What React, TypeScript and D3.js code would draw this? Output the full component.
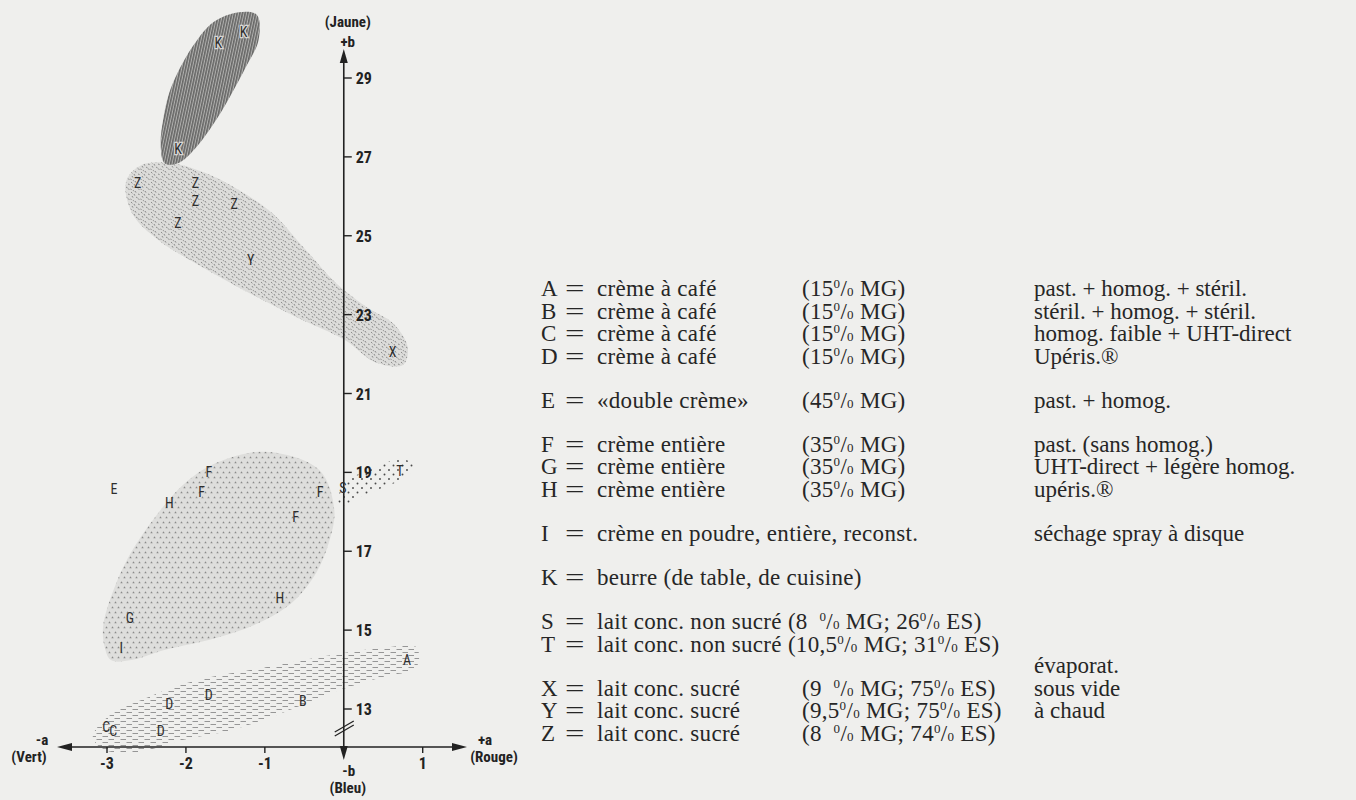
import React from "react";
import * as d3 from "d3";

// ---------- axis ticks ----------
const xTicks = [-3, -2, -1, 1];
const yTicks = [13, 15, 17, 19, 21, 23, 25, 27, 29];

// ---------- point labels (a*, b*) ----------
const ptCode = ["K", "K", "K", "Z", "Z", "Z", "Z", "Z", "Y", "X", "E", "H", "F", "F", "F", "F", "H", "G", "I", "S", "T", "A", "B", "D", "D", "D", "C", "C"];
const ptA = [-1.27, -1.59, -2.1, -2.61, -1.88, -1.88, -1.39, -2.1, -1.18, 0.62, -2.91, -2.21, -1.71, -1.8, -0.3, -0.61, -0.81, -2.71, -2.82, -0.01, 0.71, 0.8, -0.52, -1.71, -2.21, -2.32, -3.01, -2.92];
const ptB = [30.17, 29.9, 27.2, 26.33, 26.33, 25.88, 25.8, 25.32, 24.38, 22.05, 18.58, 18.22, 19.01, 18.5, 18.5, 17.87, 15.81, 15.31, 14.55, 18.6, 19.03, 14.24, 13.2, 13.35, 13.13, 12.44, 12.54, 12.44];

// ---------- region outlines (a*, b*) ----------
const regionK: [number, number][] = [
  [-1.33, 30.67], [-1.1, 30.6], [-1.08, 29.96], [-1.24, 29.28], [-1.43, 28.57], [-1.62, 27.93], [-1.88, 27.22],
  [-2.1, 26.84], [-2.27, 26.84], [-2.32, 27.3], [-2.29, 27.93], [-2.22, 28.57], [-2.12, 29.07], [-1.9, 29.84], [-1.65, 30.42],
];
const regionXYZ: [number, number][] = [
  [-2.76, 26.36], [-2.57, 26.79], [-2.18, 26.84], [-1.75, 26.59], [-1.33, 26.16], [-0.91, 25.58], [-0.48, 24.64],
  [-0.1, 23.8], [0.29, 23.19], [0.62, 22.79], [0.81, 22.18], [0.75, 21.72], [0.39, 21.8], [0.01, 22.36],
  [-0.57, 22.91], [-1.2, 23.55], [-1.84, 24.26], [-2.35, 24.89], [-2.67, 25.53],
];
const regionEFGHI: [number, number][] = [
  [-0.99, 19.52], [-0.31, 19.06], [-0.12, 18.05], [-0.18, 17.28], [-0.35, 16.45], [-0.66, 15.69], [-1.08, 15.18],
  [-1.62, 14.8], [-2.26, 14.5], [-2.69, 14.24], [-2.95, 14.24], [-3.03, 14.57], [-3.05, 15.08], [-2.95, 15.84],
  [-2.73, 16.85], [-2.39, 17.87], [-2.01, 18.73], [-1.59, 19.26],
];
const regionST: [number, number][] = [
  [-0.08, 18.3], [0.07, 18.81], [0.39, 19.11], [0.71, 19.34], [0.89, 19.19], [0.81, 18.91], [0.52, 18.63], [0.2, 18.38], [0.0, 18.17],
];
const regionABCD: [number, number][] = [
  [-3.18, 12.29], [-2.99, 12.8], [-2.48, 13.3], [-1.84, 13.74], [-0.99, 14.06], [-0.15, 14.37], [0.49, 14.55], [0.92, 14.57],
  [0.92, 14.06], [0.49, 13.81], [-0.15, 13.41], [-0.78, 12.9], [-1.42, 12.47], [-2.06, 12.21], [-2.61, 11.91], [-3.03, 11.96],
];

// ---------- legend ----------
const legendCode = ["A", "B", "C", "D", "E", "F", "G", "H", "I", "K", "S", "T", "X", "Y", "Z"];
const legendDesc = [
  "crème à café", "crème à café", "crème à café", "crème à café", "«double crème»",
  "crème entière", "crème entière", "crème entière", "crème en poudre, entière, reconst.",
  "beurre (de table, de cuisine)", "lait conc. non sucré", "lait conc. non sucré",
  "lait conc. sucré", "lait conc. sucré", "lait conc. sucré",
];
const legendFat = [
  "(15% MG)", "(15% MG)", "(15% MG)", "(15% MG)", "(45% MG)", "(35% MG)", "(35% MG)", "(35% MG)", "", "",
  "(8\u2002% MG; 26% ES)", "(10,5% MG; 31% ES)", "(9\u2002% MG; 75% ES)", "(9,5% MG; 75% ES)", "(8\u2002% MG; 74% ES)",
];
const legendFatInline = [false, false, false, false, false, false, false, false, false, false, true, true, false, false, false];
const legendGroup = [0, 0, 0, 0, 1, 2, 2, 2, 3, 4, 5, 5, 6, 6, 6];
const legendProc = [
  "past. + homog. + stéril.", "stéril. + homog. + stéril.", "homog. faible + UHT-direct", "Upéris.®",
  "past. + homog.", "past. (sans homog.)", "UHT-direct + légère homog.", "upéris.®",
  "séchage spray à disque", "", "", "", "sous vide", "à chaud", "",
];
const evapNote = "évaporat.";

const SANS = "Roboto Condensed, DejaVu Sans Condensed, sans-serif";
const SERIF = "Liberation Serif, DejaVu Serif, serif";

function Pct({ s }: { s: string }) {
  const parts = s.split("%");
  const out: React.ReactNode[] = [];
  parts.forEach((p, i) => {
    out.push(<tspan key={"p" + i}>{p}</tspan>);
    if (i < parts.length - 1) {
      out.push(
        <tspan key={"s" + i} fontSize={13} dy={-8}>0</tspan>,
        <tspan key={"l" + i} dy={8}>/</tspan>,
        <tspan key={"o" + i} fontSize={13}>0</tspan>
      );
    }
  });
  return <>{out}</>;
}

export default function App() {
  const W = 1356, H = 800;
  const x = d3.scaleLinear().domain([-3, 1]).range([107, 422.7]);
  const y = d3.scaleLinear().domain([13, 29]).range([709, 78]);
  const line = d3
    .line<[number, number]>()
    .x((d) => x(d[0]))
    .y((d) => y(d[1]))
    .curve(d3.curveCatmullRomClosed.alpha(0.5));
  const x0 = x(0);
  const axisY = 747;

  // legend layout
  const rowTop = 288, unit = 22.6, gap = 44;
  const rowY = (i: number) => rowTop + (i - legendGroup[i]) * unit + legendGroup[i] * gap;
  const colCode = 541, colEq = 565, colDesc = 597, colFat = 802, colProc = 1034;
  const base = 8;

  const zDashes = [
    [1, 2, 2.4, 3.3], [5, 1, 6, 2.6], [8, 4, 9.6, 4.6], [2, 6, 3, 7.6], [6, 7, 7.6, 8],
    [4, 4, 4.8, 5.6], [8.6, 8.6, 9.2, 9.9], [0.4, 9, 1.6, 9.6], [3.2, 0.2, 3.8, 1.2],
  ];

  const sansStyle: React.CSSProperties = { fontFamily: SANS };
  const serifStyle: React.CSSProperties = { fontFamily: SERIF };

  return (
    <svg width={W} height={H} style={{ position: "absolute", left: 0, top: 0 }} xmlns="http://www.w3.org/2000/svg">
      <defs>
        <pattern id="patK" width={2.6} height={12} patternUnits="userSpaceOnUse" patternTransform="rotate(12)">
          <rect width={2.6} height={12} fill="#b0b0ae" />
          <line x1={0.8} y1={0} x2={0.8} y2={12} stroke="#404040" strokeWidth={1.0} />
        </pattern>
        <pattern id="patZ" width={10} height={10} patternUnits="userSpaceOnUse">
          <rect width={10} height={10} fill="#dcdcda" />
          {zDashes.map((d, i) => (
            <line key={i} x1={d[0]} y1={d[1]} x2={d[2]} y2={d[3]} stroke="#727272" strokeWidth={0.8} />
          ))}
        </pattern>
        <pattern id="patF" width={6} height={10} patternUnits="userSpaceOnUse">
          <rect width={6} height={10} fill="#dededc" />
          <path d="M0.3,3.2 L1.5,1.2 L2.7,3.2 Z" fill="#8a8a8a" />
          <path d="M3.3,8.2 L4.5,6.2 L5.7,8.2 Z" fill="#8a8a8a" />
        </pattern>
        <pattern id="patST" width={9} height={9} patternUnits="userSpaceOnUse">
          <circle cx={2} cy={2} r={0.95} fill="#4a4a4a" />
          <circle cx={6.5} cy={6.5} r={0.95} fill="#4a4a4a" />
        </pattern>
        <pattern id="patAD" width={12} height={6} patternUnits="userSpaceOnUse">
          <line x1={0.5} y1={1.5} x2={6} y2={1.5} stroke="#8c8c8c" strokeWidth={0.9} />
          <line x1={6.5} y1={4.5} x2={12} y2={4.5} stroke="#8c8c8c" strokeWidth={0.9} />
        </pattern>
      </defs>

      <rect x={0} y={0} width={W} height={H} fill="#efefed" />

      {/* regions */}
      <path d={line(regionXYZ) ?? ""} fill="url(#patZ)" />
      <path d={line(regionK) ?? ""} fill="url(#patK)" />
      <path d={line(regionEFGHI) ?? ""} fill="url(#patF)" />
      <path d={line(regionABCD) ?? ""} fill="url(#patAD)" />
      <path d={line(regionST) ?? ""} fill="url(#patST)" />

      {/* vertical axis */}
      <line x1={x0} y1={58} x2={x0} y2={752} stroke="#222" strokeWidth={1.6} />
      <path d={`M${x0},49 L${x0 - 4},63 L${x0 + 4},63 Z`} fill="#222" />
      <path d={`M${x0},760 L${x0 - 4},746 L${x0 + 4},746 Z`} fill="#222" />
      {yTicks.map((t) => (
        <g key={t}>
          <line x1={x0} x2={x0 + 8} y1={y(t)} y2={y(t)} stroke="#222" strokeWidth={1.4} />
          <text x={x0 + 12} y={y(t) + 6} style={sansStyle} fontWeight="bold" fontSize={16} fill="#222">
            {t}
          </text>
        </g>
      ))}
      {/* break mark */}
      <line x1={x0 - 9} y1={732} x2={x0 + 10} y2={721} stroke="#222" strokeWidth={1.3} />
      <line x1={x0 - 9} y1={736} x2={x0 + 10} y2={725} stroke="#222" strokeWidth={1.3} />

      {/* horizontal axis */}
      <line x1={66} y1={axisY} x2={458} y2={axisY} stroke="#222" strokeWidth={1.6} />
      <path d={`M57,${axisY} L72,${axisY - 4} L72,${axisY + 4} Z`} fill="#222" />
      <path d={`M467,${axisY} L452,${axisY - 4} L452,${axisY + 4} Z`} fill="#222" />
      {xTicks.map((t) => (
        <g key={t}>
          <line x1={x(t)} x2={x(t)} y1={axisY} y2={axisY + 6} stroke="#222" strokeWidth={1.4} />
          <text x={x(t)} y={axisY + 22} textAnchor="middle" style={sansStyle} fontWeight="bold" fontSize={16} fill="#222">
            {t < 0 ? "-" + Math.abs(t) : String(t)}
          </text>
        </g>
      ))}

      {/* axis titles */}
      <g style={sansStyle} fontWeight="bold" fontSize={15} fill="#222" textAnchor="middle">
        <text x={x0 + 4} y={27}>(Jaune)</text>
        <text x={x0 + 4} y={47}>+b</text>
        <text x={x0 + 5} y={776}>-b</text>
        <text x={x0 + 4} y={793}>(Bleu)</text>
        <text x={42} y={745}>-a</text>
        <text x={29} y={762}>(Vert)</text>
        <text x={485} y={745}>+a</text>
        <text x={494} y={762}>(Rouge)</text>
      </g>

      {/* point letters */}
      {ptCode.map((c, i) => (
        <text
          key={i}
          x={x(ptA[i])}
          y={y(ptB[i]) + 5}
          textAnchor="middle"
          fontSize={14}
          fill="#2e2e2e"
          stroke={c === "K" ? "#d6d6d4" : "none"}
          strokeWidth={c === "K" ? 2.5 : 0}
          style={{ ...sansStyle, paintOrder: "stroke" }}
        >
          {c}
        </text>
      ))}

      {/* legend */}
      <g style={serifStyle} fontSize={23} fill="#262626">
        {legendCode.map((c, i) => {
          const yy = rowY(i) + base;
          return (
            <g key={c}>
              <text x={colCode} y={yy}>{c}</text>
              <text transform={`translate(${colEq},${yy}) scale(1.5,1)`}>=</text>
              <text x={colDesc} y={yy} letterSpacing={0.3}>
                {legendDesc[i]}
                {legendFatInline[i] ? (
                  <>
                    <tspan>{"\u00a0"}</tspan>
                    <Pct s={legendFat[i]} />
                  </>
                ) : null}
              </text>
              {!legendFatInline[i] && legendFat[i] ? (
                <text x={colFat} y={yy} letterSpacing={0.3}>
                  <Pct s={legendFat[i]} />
                </text>
              ) : null}
              {legendProc[i] ? <text x={colProc} y={yy}>{legendProc[i]}</text> : null}
            </g>
          );
        })}
        <text x={colProc} y={rowY(12) - unit + base}>{evapNote}</text>
      </g>
    </svg>
  );
}
